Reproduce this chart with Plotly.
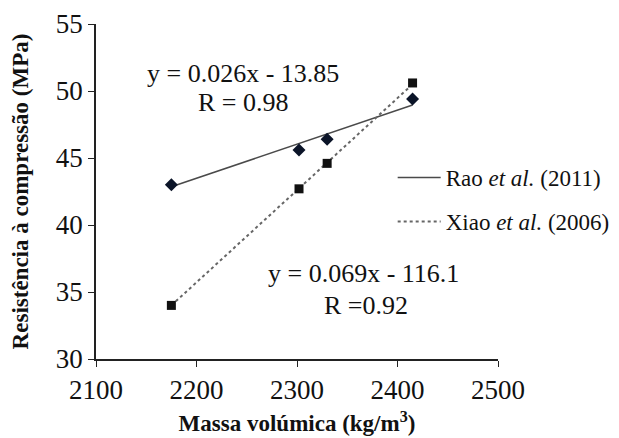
import plotly.graph_objects as go

# data
density = [2175, 2302, 2330, 2415]
rao_strength = [43.0, 45.6, 46.4, 49.4]
xiao_strength = [34.0, 42.7, 44.6, 50.6]

# trend-line end points
rao_trend_x = [2175, 2415]
rao_trend_y = [42.85, 48.95]
xiao_trend_x = [2175, 2415]
xiao_trend_y = [34.0, 50.5]

x_ticks = [2100, 2200, 2300, 2400, 2500]
y_ticks = [30, 35, 40, 45, 50, 55]

FONT = "Liberation Serif, Times New Roman, serif"

fig = go.Figure()
fig.add_trace(go.Scatter(x=rao_trend_x, y=rao_trend_y, mode="lines",
                         line=dict(color="#4a4a4a", width=1.5),
                         name="Rao <i>et al.</i> (2011)", legendgroup="a"))
fig.add_trace(go.Scatter(x=xiao_trend_x, y=xiao_trend_y, mode="lines",
                         line=dict(color="#666666", width=2, dash="3px,3px"),
                         name="Xiao <i>et al.</i> (2006)", legendgroup="b"))
fig.add_trace(go.Scatter(x=density, y=rao_strength, mode="markers",
                         marker=dict(symbol="diamond", size=10, color="#0b1428"),
                         showlegend=False))
fig.add_trace(go.Scatter(x=density, y=xiao_strength, mode="markers",
                         marker=dict(symbol="square", size=9, color="#111111"),
                         showlegend=False))

ann_font = dict(family=FONT, size=26, color="#111111")
fig.add_annotation(x=2246, y=51.27, text="y = 0.026x - 13.85", showarrow=False,
                   xref="x", yref="y", font=ann_font)
fig.add_annotation(x=2247, y=49.15, text="R = 0.98", showarrow=False,
                   xref="x", yref="y", font=ann_font)
fig.add_annotation(x=2366, y=36.4, text="y = 0.069x - 116.1", showarrow=False,
                   xref="x", yref="y", font=ann_font)
fig.add_annotation(x=2369, y=34.0, text="R =0.92", showarrow=False,
                   xref="x", yref="y", font=ann_font)

# page body adds an 8px offset; margins compensate for it (extra width
# on the right only gives the legend room and lies outside the window)
fig.update_layout(
    width=660, height=430,
    margin=dict(l=88, r=170, t=16, b=79),
    paper_bgcolor="white", plot_bgcolor="white",
    font=dict(family=FONT, size=22, color="#111111"),
    legend=dict(x=0.738, y=0.476, xanchor="left", yanchor="middle",
                font=dict(family=FONT, size=23, color="#111111"),
                bgcolor="rgba(0,0,0,0)", tracegroupgap=11, itemwidth=43),
    xaxis=dict(range=[2100, 2500], tickvals=x_ticks, showgrid=False, zeroline=False,
               showline=True, linecolor="#222222", linewidth=1.5,
               ticks="outside", ticklen=6, tickcolor="#222222",
               tickfont=dict(family=FONT, size=27), automargin=False,
               title=dict(text="<b>Massa volúmica (kg/m<sup>3</sup>)</b>",
                          font=dict(family=FONT, size=23), standoff=11)),
    yaxis=dict(range=[30, 55], tickvals=y_ticks, showgrid=False, zeroline=False,
               showline=True, linecolor="#222222", linewidth=1.5,
               ticks="outside", ticklen=6, tickcolor="#222222",
               tickfont=dict(family=FONT, size=27), automargin=False,
               title=dict(text="<b>Resistência à compressão (MPa)</b>",
                          font=dict(family=FONT, size=23), standoff=27)),
)

fig.write_html("out.html")
